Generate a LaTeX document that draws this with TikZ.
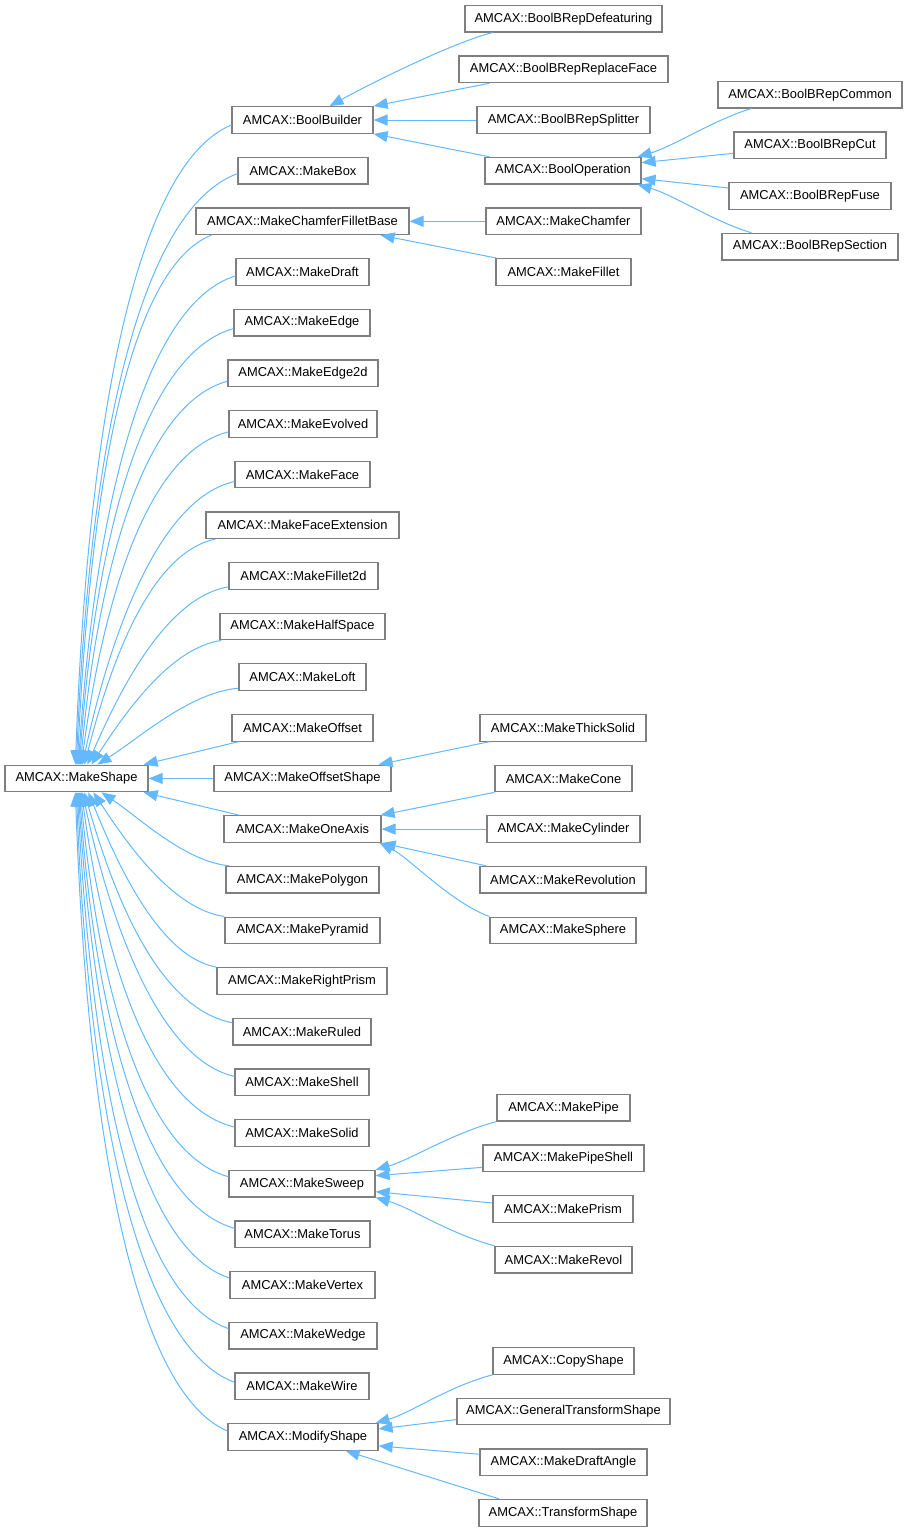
\documentclass[tikz,border=0pt]{standalone}
\usepackage{fontspec}
\setmainfont{Liberation Sans}
\usetikzlibrary{calc,arrows.meta}
\definecolor{edgeblue}{HTML}{63B8FF}
\definecolor{boxgray}{HTML}{7F7F7F}
\newcommand\rowy[1]{120+50.65*(#1)}
% #1 start, #2 end, #3 pull of first control, #4 horizontal offset of second control, #5 vertical pull of second control
\newcommand\msedge[5]{\draw[inh] let \p1=(#1), \p2=(#2) in (\p1) .. controls ({\x1-#3*(\x1-\x2)},{\y1+0.06*(\y2-\y1)}) and ({\x2+#4*(\x1-\x2)},{\y2-#5*(\y2-\y1)}) .. (\p2);}
\newcommand\sedge[6]{\draw[inh] let \p1=(#1), \p2=(#2) in (\p1) .. controls ($(\p1)+(#3,#4)$) and ($(\p2)+(#5,#6)$) .. (\p2);}
\begin{document}
\begin{tikzpicture}[x=1pt,y=-1pt,
  box/.style={draw=boxgray,line width=1.2pt,fill=white,minimum height=26.6pt,inner sep=0pt,font=\fontsize{12.9pt}{15pt}\selectfont},
  inh/.style={draw=edgeblue,line width=1pt,-{Triangle[length=14pt,width=11pt]}}]
\useasboundingbox (0,0) rectangle (908,1532);
% root
\node[box,minimum width=143pt] (ms) at (76.5,{\rowy{13}}) {AMCAX::MakeShape};
% middle column
\node[box,minimum width=141pt] (bb)   at (302.5,{\rowy{0}})  {AMCAX::BoolBuilder};
\node[box,minimum width=130pt] (mbox) at (303,{\rowy{1}})    {AMCAX::MakeBox};
\node[box,minimum width=213pt] (cfb)  at (302.5,{\rowy{2}})  {AMCAX::MakeChamferFilletBase};
\node[box,minimum width=133pt] (mdr)  at (302.5,{\rowy{3}})  {AMCAX::MakeDraft};
\node[box,minimum width=136pt] (med)  at (302,{\rowy{4}})    {AMCAX::MakeEdge};
\node[box,minimum width=150pt] (me2)  at (303,{\rowy{5}})    {AMCAX::MakeEdge2d};
\node[box,minimum width=148pt] (mev)  at (303,{\rowy{6}})    {AMCAX::MakeEvolved};
\node[box,minimum width=135pt] (mfa)  at (302.5,{\rowy{7}})  {AMCAX::MakeFace};
\node[box,minimum width=193pt] (mfe)  at (302.5,{\rowy{8}})  {AMCAX::MakeFaceExtension};
\node[box,minimum width=149pt] (mf2)  at (303.5,{\rowy{9}})  {AMCAX::MakeFillet2d};
\node[box,minimum width=165pt] (mhs)  at (302.5,{\rowy{10}}) {AMCAX::MakeHalfSpace};
\node[box,minimum width=127pt] (mlo)  at (302.5,{\rowy{11}}) {AMCAX::MakeLoft};
\node[box,minimum width=141pt] (mof)  at (302.5,{\rowy{12}}) {AMCAX::MakeOffset};
\node[box,minimum width=177pt] (os)   at (302.5,{\rowy{13}}) {AMCAX::MakeOffsetShape};
\node[box,minimum width=157pt] (oa)   at (302.5,{\rowy{14}}) {AMCAX::MakeOneAxis};
\node[box,minimum width=153pt] (mpo)  at (302.5,{\rowy{15}}) {AMCAX::MakePolygon};
\node[box,minimum width=155pt] (mpy)  at (302.5,{\rowy{16}}) {AMCAX::MakePyramid};
\node[box,minimum width=170pt] (mrp)  at (302,{\rowy{17}})   {AMCAX::MakeRightPrism};
\node[box,minimum width=138pt] (mru)  at (302,{\rowy{18}})   {AMCAX::MakeRuled};
\node[box,minimum width=134pt] (msh)  at (302,{\rowy{19}})   {AMCAX::MakeShell};
\node[box,minimum width=134pt] (mso)  at (302,{\rowy{20}})   {AMCAX::MakeSolid};
\node[box,minimum width=146pt] (sw)   at (302,{\rowy{21}})   {AMCAX::MakeSweep};
\node[box,minimum width=135pt] (mto)  at (302.5,{\rowy{22}}) {AMCAX::MakeTorus};
\node[box,minimum width=145pt] (mve)  at (302.5,{\rowy{23}}) {AMCAX::MakeVertex};
\node[box,minimum width=148pt] (mwe)  at (303,{\rowy{24}})   {AMCAX::MakeWedge};
\node[box,minimum width=134pt] (mwi)  at (302,{\rowy{25}})   {AMCAX::MakeWire};
\node[box,minimum width=150pt] (md)   at (303,{\rowy{26}})   {AMCAX::ModifyShape};
% right column
\node[box,minimum width=197pt] (def)  at (563.5,{\rowy{-2}})   {AMCAX::BoolBRepDefeaturing};
\node[box,minimum width=209pt] (rf)   at (563.5,{\rowy{-1}})   {AMCAX::BoolBRepReplaceFace};
\node[box,minimum width=173pt] (spl)  at (563.5,{\rowy{0}})    {AMCAX::BoolBRepSplitter};
\node[box,minimum width=156pt] (bo)   at (563,{\rowy{1}})      {AMCAX::BoolOperation};
\node[box,minimum width=155pt] (mch)  at (563.5,{\rowy{2}})    {AMCAX::MakeChamfer};
\node[box,minimum width=135pt] (mfi)  at (563.5,{\rowy{3}})    {AMCAX::MakeFillet};
\node[box,minimum width=166pt] (ts)   at (563,{\rowy{12}})     {AMCAX::MakeThickSolid};
\node[box,minimum width=137pt] (cone) at (563.5,{\rowy{13}})   {AMCAX::MakeCone};
\node[box,minimum width=153pt] (cyl)  at (563.5,{\rowy{14}})   {AMCAX::MakeCylinder};
\node[box,minimum width=166pt] (rev)  at (563,{\rowy{15}})     {AMCAX::MakeRevolution};
\node[box,minimum width=146pt] (sph)  at (563,{\rowy{16}})     {AMCAX::MakeSphere};
\node[box,minimum width=133pt] (pipe) at (563.5,{\rowy{19.5}}) {AMCAX::MakePipe};
\node[box,minimum width=161pt] (ps)   at (563.5,{\rowy{20.5}}) {AMCAX::MakePipeShell};
\node[box,minimum width=140pt] (pr)   at (563,{\rowy{21.5}})   {AMCAX::MakePrism};
\node[box,minimum width=137pt] (rvl)  at (563.5,{\rowy{22.5}}) {AMCAX::MakeRevol};
\node[box,minimum width=141pt] (cp)   at (563.5,{\rowy{24.5}}) {AMCAX::CopyShape};
\node[box,minimum width=213pt] (gts)  at (563.5,{\rowy{25.5}}) {AMCAX::GeneralTransformShape};
\node[box,minimum width=167pt] (da)   at (563.5,{\rowy{26.5}}) {AMCAX::MakeDraftAngle};
\node[box,minimum width=168pt] (tf)   at (563,{\rowy{27.5}})   {AMCAX::TransformShape};
% far right column
\node[box,minimum width=184pt] (com)  at (810,{\rowy{-0.5}}) {AMCAX::BoolBRepCommon};
\node[box,minimum width=152pt] (cut)  at (810,{\rowy{0.5}})  {AMCAX::BoolBRepCut};
\node[box,minimum width=162pt] (fuse) at (810,{\rowy{1.5}})  {AMCAX::BoolBRepFuse};
\node[box,minimum width=176pt] (sec)  at (810,{\rowy{2.5}})  {AMCAX::BoolBRepSection};
% edges into MakeShape, from above
\msedge{[yshift=-5pt]bb.west}{[xshift=71pt]ms.north west}{0.6}{0.08}{0.55}
\msedge{[yshift=-3pt]mbox.west}{[xshift=72pt]ms.north west}{0.6}{0.08}{0.55}
\msedge{[xshift=16pt]cfb.south west}{[xshift=73pt]ms.north west}{0.6}{0.1}{0.55}
\msedge{[yshift=-4pt]mdr.west}{[xshift=74pt]ms.north west}{0.6}{0.1}{0.5}
\msedge{[yshift=-6pt]med.west}{[xshift=75pt]ms.north west}{0.6}{0.1}{0.5}
\msedge{[yshift=-8pt]me2.west}{[xshift=76pt]ms.north west}{0.58}{0.12}{0.5}
\msedge{[yshift=-8pt]mev.west}{[xshift=77pt]ms.north west}{0.55}{0.15}{0.5}
\msedge{[yshift=-7pt]mfa.west}{[xshift=78pt]ms.north west}{0.5}{0.18}{0.45}
\msedge{[xshift=10pt]mfe.south west}{[xshift=80pt]ms.north west}{0.5}{0.2}{0.45}
\msedge{[yshift=-11pt]mf2.west}{[xshift=83pt]ms.north west}{0.45}{0.22}{0.4}
\msedge{[xshift=2pt]mhs.south west}{[xshift=87pt]ms.north west}{0.4}{0.25}{0.4}
\msedge{[yshift=-11pt]mlo.west}{[xshift=93pt]ms.north west}{0.35}{0.3}{0.35}
\draw[inh] ([xshift=7pt]mof.south west) -- ([xshift=-5pt]ms.north east);
\draw[inh] (os.west) -- (ms.east);
% edges into MakeShape, from below
\draw[inh] ([xshift=16pt]oa.north west) -- ([xshift=-5pt]ms.south east);
\msedge{[xshift=4pt]mpo.north west}{[xshift=97pt]ms.south west}{0.35}{0.3}{0.35}
\msedge{mpy.north west}{[xshift=89pt]ms.south west}{0.4}{0.25}{0.4}
\msedge{mrp.north west}{[xshift=84pt]ms.south west}{0.45}{0.22}{0.4}
\msedge{[yshift=9pt]mru.west}{[xshift=80pt]ms.south west}{0.5}{0.2}{0.45}
\msedge{[yshift=6pt]msh.west}{[xshift=78pt]ms.south west}{0.5}{0.18}{0.45}
\msedge{[yshift=6pt]mso.west}{[xshift=77pt]ms.south west}{0.55}{0.15}{0.5}
\msedge{[yshift=7pt]sw.west}{[xshift=76pt]ms.south west}{0.58}{0.12}{0.5}
\msedge{[yshift=6pt]mto.west}{[xshift=75pt]ms.south west}{0.6}{0.1}{0.5}
\msedge{[yshift=7pt]mve.west}{[xshift=74pt]ms.south west}{0.6}{0.1}{0.5}
\msedge{[yshift=7pt]mwe.west}{[xshift=73pt]ms.south west}{0.6}{0.1}{0.55}
\msedge{[yshift=4pt]mwi.west}{[xshift=72pt]ms.south west}{0.6}{0.08}{0.55}
\msedge{[yshift=6pt]md.west}{[xshift=71pt]ms.south west}{0.6}{0.08}{0.55}
% BoolBuilder subtree
\sedge{[xshift=28pt]def.south west}{[xshift=27pt]bb.north}{-40}{10}{40}{-22}
\draw[inh] ([xshift=31pt]rf.south west) -- (bb.north east);
\draw[inh] (spl.west) -- (bb.east);
\draw[inh] ([xshift=5pt]bo.north west) -- (bb.south east);
% BoolOperation subtree
\sedge{[xshift=34pt]com.south west}{[xshift=-4pt]bo.north east}{-35}{10}{35}{-10}
\draw[inh] ([yshift=-8pt]cut.west) -- ([yshift=8pt]bo.east);
\draw[inh] ([yshift=8pt]fuse.west) -- ([yshift=-8pt]bo.east);
\sedge{[xshift=30pt]sec.north west}{[xshift=-4pt]bo.south east}{-35}{-10}{35}{10}
% ChamferFilletBase subtree
\draw[inh] (mch.west) -- (cfb.east);
\draw[inh] ([xshift=1pt]mfi.north west) -- ([xshift=-29pt]cfb.south east);
% OffsetShape subtree
\draw[inh] ([xshift=10pt]ts.south west) -- ([xshift=-13pt]os.north east);
% OneAxis subtree
\draw[inh] (cone.south west) -- ([xshift=-1pt]oa.north east);
\draw[inh] (cyl.west) -- (oa.east);
\draw[inh] ([xshift=7pt]rev.north west) -- (oa.south east);
\sedge{sph.north west}{[xshift=-2pt]oa.south east}{-40}{-15}{30}{15}
% Sweep subtree
\sedge{pipe.south west}{sw.north east}{-45}{12}{35}{-10}
\draw[inh] ([yshift=-9pt]ps.west) -- ([yshift=8pt]sw.east);
\draw[inh] ([yshift=6pt]pr.west) -- ([yshift=-8pt]sw.east);
\sedge{rvl.north west}{sw.south east}{-45}{-12}{35}{10}
% ModifyShape subtree
\sedge{cp.south west}{[xshift=-3pt]md.north east}{-45}{12}{35}{-10}
\draw[inh] ([yshift=-8pt]gts.west) -- ([yshift=8pt]md.east);
\draw[inh] ([yshift=8pt]da.west) -- ([yshift=-9pt]md.east);
\draw[inh] ([xshift=21pt]tf.north west) -- ([xshift=-33pt]md.south east);
\end{tikzpicture}
\end{document}
